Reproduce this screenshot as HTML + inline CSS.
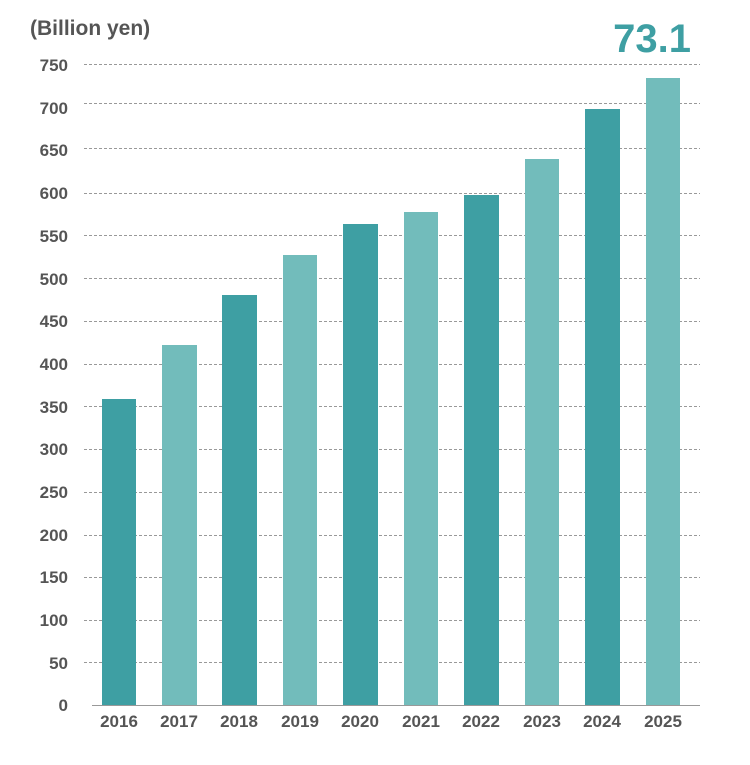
<!DOCTYPE html>
<html><head><meta charset="utf-8"><style>
body{margin:0;background:#fff;}
svg text{font-family:"Liberation Sans",sans-serif;fill:#555;}
</style></head><body>
<svg width="750" height="760" xmlns="http://www.w3.org/2000/svg">
<text x="30" y="35" font-size="21" font-weight="bold">(Billion yen)</text>
<text x="691" y="52" font-size="40" font-weight="bold" text-anchor="end" style="fill:#3e9fa3">73.1</text>
<g stroke="#999" stroke-width="1" stroke-dasharray="3,2">
<line x1="84" x2="700" y1="64.5" y2="64.5"/><line x1="84" x2="700" y1="103.5" y2="103.5"/><line x1="84" x2="700" y1="148.5" y2="148.5"/><line x1="84" x2="700" y1="193.5" y2="193.5"/><line x1="84" x2="700" y1="235.5" y2="235.5"/><line x1="84" x2="700" y1="278.5" y2="278.5"/><line x1="84" x2="700" y1="321.5" y2="321.5"/><line x1="84" x2="700" y1="364.5" y2="364.5"/><line x1="84" x2="700" y1="406.5" y2="406.5"/><line x1="84" x2="700" y1="449.5" y2="449.5"/><line x1="84" x2="700" y1="492.5" y2="492.5"/><line x1="84" x2="700" y1="535.5" y2="535.5"/><line x1="84" x2="700" y1="577.5" y2="577.5"/><line x1="84" x2="700" y1="620.5" y2="620.5"/><line x1="84" x2="700" y1="662.5" y2="662.5"/>
</g>
<g font-size="17" font-weight="bold" text-anchor="end">
<text x="68" y="71">750</text><text x="68" y="114">700</text><text x="68" y="156">650</text><text x="68" y="199">600</text><text x="68" y="242">550</text><text x="68" y="285">500</text><text x="68" y="327">450</text><text x="68" y="370">400</text><text x="68" y="413">350</text><text x="68" y="455">300</text><text x="68" y="498">250</text><text x="68" y="541">200</text><text x="68" y="583">150</text><text x="68" y="626">100</text><text x="68" y="669">50</text><text x="68" y="711">0</text>
</g>
<g>
<rect x="102" y="399" width="34" height="306" fill="#3e9fa3"/>
<rect x="162" y="345" width="35" height="360" fill="#72bcbb"/>
<rect x="222" y="295" width="35" height="410" fill="#3e9fa3"/>
<rect x="283" y="255" width="34" height="450" fill="#72bcbb"/>
<rect x="343" y="224" width="35" height="481" fill="#3e9fa3"/>
<rect x="404" y="212" width="34" height="493" fill="#72bcbb"/>
<rect x="464" y="195" width="35" height="510" fill="#3e9fa3"/>
<rect x="525" y="159" width="34" height="546" fill="#72bcbb"/>
<rect x="585" y="109" width="35" height="596" fill="#3e9fa3"/>
<rect x="646" y="78" width="34" height="627" fill="#72bcbb"/>
</g>
<line x1="92" x2="700" y1="705.5" y2="705.5" stroke="#999" stroke-width="1"/>
<g font-size="17" font-weight="bold" text-anchor="middle">
<text x="119" y="727">2016</text><text x="179" y="727">2017</text><text x="239" y="727">2018</text><text x="300" y="727">2019</text><text x="360" y="727">2020</text><text x="421" y="727">2021</text><text x="481" y="727">2022</text><text x="542" y="727">2023</text><text x="602" y="727">2024</text><text x="663" y="727">2025</text>
</g>
</svg>
</body></html>
